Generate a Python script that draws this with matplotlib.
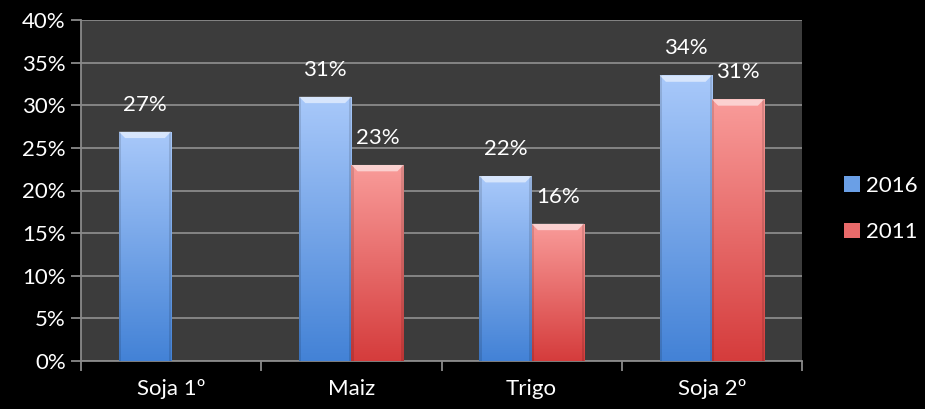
import numpy as np
import matplotlib
matplotlib.use('Agg')
import matplotlib.pyplot as plt
from matplotlib.colors import LinearSegmentedColormap
from matplotlib.patches import Patch

categories = ['Soja 1º', 'Maiz', 'Trigo', 'Soja 2º']
vals_2016 = [26.9, 31.0, 21.7, 33.5]
vals_2011 = [np.nan, 23.0, 16.1, 30.7]
labels_2016 = ['27%', '31%', '22%', '34%']
labels_2011 = ['', '23%', '16%', '31%']
yticks = [0, 5, 10, 15, 20, 25, 30, 35, 40]

plt.rcParams['font.family'] = ['Lato', 'DejaVu Sans']
FS = 16

fig = plt.figure(figsize=(9.25, 4.09), dpi=100, facecolor='black')
ax = fig.add_axes([81/925, 48/409, (802-81)/925, (361-20)/409])
ax.set_facecolor('#3c3c3c')

x = np.arange(len(categories))
w = 0.29
off = 0.145

blue = LinearSegmentedColormap.from_list('b', ['#4382d6', '#a9c9fa'])
red = LinearSegmentedColormap.from_list('r', ['#d53c3c', '#f99c9a'])

def grad_bars(xs, vals, cmap):
    bars = ax.bar(xs, vals, w, color='none', edgecolor='none', zorder=3)
    grad = np.linspace(0, 1, 256).reshape(-1, 1)
    for b in bars:
        h = b.get_height()
        if not np.isfinite(h) or h <= 0:
            continue
        x0, x1 = b.get_x(), b.get_x() + b.get_width()
        im = ax.imshow(grad, cmap=cmap, aspect='auto', origin='lower',
                       extent=[x0, x1, 0, h], zorder=3)
        im.set_clip_path(b)
        # side shading
        ax.fill_between([x0, x0 + 0.012], 0, h, color='black', alpha=0.12, zorder=4, lw=0)
        ax.fill_between([x1 - 0.012, x1], 0, h, color='black', alpha=0.12, zorder=4, lw=0)
        # bevel top
        bev = 0.75
        ax.fill([x0, x1, x1 - 0.035, x0 + 0.035], [h, h, h - bev, h - bev],
                color='white', alpha=0.55, zorder=4, lw=0)
    return bars

grad_bars(x - off, vals_2016, blue)
grad_bars(x + off, vals_2011, red)

for i in range(len(categories)):
    ax.text(x[i] - off, vals_2016[i] + 2.0, labels_2016[i], ha='center', va='bottom',
            color='white', fontsize=FS)
    if labels_2011[i]:
        ax.text(x[i] + off, vals_2011[i] + 2.0, labels_2011[i], ha='center', va='bottom',
                color='white', fontsize=FS)

ax.set_xlim(-0.5, len(categories) - 0.5)
ax.set_ylim(0, 40)
ax.set_yticks(yticks)
ax.set_yticklabels([f'{t}%' for t in yticks], color='white', fontsize=FS)
ax.yaxis.grid(True, color='#8a8a8a', lw=1.3, zorder=1)
ax.set_axisbelow(True)

ax.set_xticks(x)
ax.set_xticklabels(categories, color='white', fontsize=FS)
ax.tick_params(axis='x', length=0, pad=13)
ax.set_xticks(np.arange(-0.5, len(categories)), minor=True)
ax.tick_params(axis='x', which='minor', length=7, color='#8a8a8a', width=1.3)
ax.tick_params(axis='y', length=7, color='#8a8a8a', width=1.3, pad=4)

for s in ['top', 'right']:
    ax.spines[s].set_visible(False)
for s in ['left', 'bottom']:
    ax.spines[s].set_color('#8a8a8a')
    ax.spines[s].set_linewidth(1.3)

handles = [Patch(facecolor='#6a9fe6', edgecolor='none', label='2016'),
           Patch(facecolor='#e86a6a', edgecolor='none', label='2011')]
leg = fig.legend(handles=handles, loc='center left', bbox_to_anchor=(844/925, 1 - 209/409),
                 frameon=False, fontsize=FS, handlelength=0.7, handleheight=0.7,
                 handletextpad=0.3, labelspacing=1.2, labelcolor='white',
                 borderpad=0, borderaxespad=0)

fig.savefig('out.png', dpi=100, facecolor='black')
